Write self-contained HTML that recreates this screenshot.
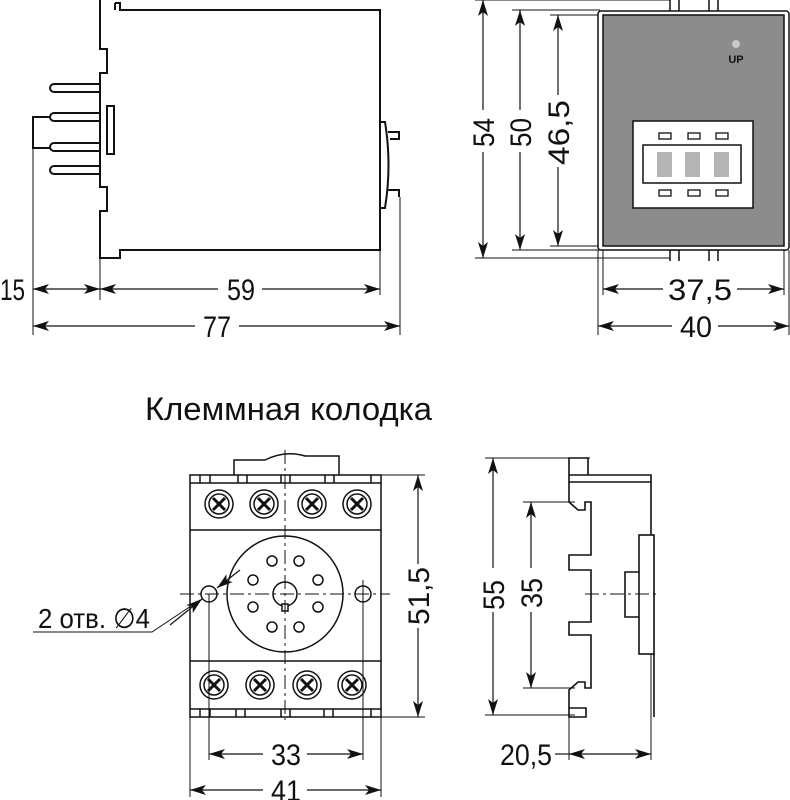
<!DOCTYPE html>
<html><head><meta charset="utf-8"><style>
body{margin:0;background:#fff}
svg{display:block}
text{font-family:"Liberation Sans Narrow","Liberation Sans",sans-serif;fill:#111}
</style></head><body>
<svg width="790" height="800" viewBox="0 0 790 800" xmlns="http://www.w3.org/2000/svg">
<defs>
<marker id="a" viewBox="0 0 16 10" refX="16" refY="5" markerWidth="16" markerHeight="10" markerUnits="userSpaceOnUse" orient="auto-start-reverse"><path d="M0,0 L16,5 L0,10 L4,5 z" fill="#111"/></marker>
</defs>
<g stroke="#111" stroke-width="2" fill="none">
<path d="M100,0 V49 H107 V73 H100 V187 H107 V211 H100 V258 H120 V250 H380 V10 H120 V3 H115"/>
<path d="M115,3 V10"/>
<rect x="107" y="106" width="7" height="48" fill="#fff"/>
<path d="M100,84 H54 a4,4 0 0 0 0,8 H100 M100,113 H54 a4,4 0 0 0 0,8 H100 M100,143 H54 a4,4 0 0 0 0,8 H100 M100,166 H54 a4,4 0 0 0 0,8 H100"/>
<path d="M50,117 H33 V148 H50"/>
<path d="M380,122 H385 Q392,165 385,208 H380"/>
<path d="M388,132 H399 V139 H390 M388,190 H399 V197"/>
</g>
<g stroke="#111" stroke-width="1" fill="none">
<path d="M33,148 V335 M100,258 V300 M380,250 V295 M400,197 V335"/>
</g>
<g stroke="#111" stroke-width="1.2">
<line x1="33" y1="289" x2="100" y2="289" marker-start="url(#a)" marker-end="url(#a)"/>
<line x1="100" y1="289" x2="380" y2="289" marker-start="url(#a)" marker-end="url(#a)"/>
<line x1="33" y1="326" x2="400" y2="326" marker-start="url(#a)" marker-end="url(#a)"/>
</g>
<rect x="218" y="276" width="44" height="26" fill="#fff"/>
<rect x="195" y="312" width="44" height="28" fill="#fff"/>
<text x="0" y="300" font-size="30" textLength="25" lengthAdjust="spacingAndGlyphs">15</text>
<text x="227" y="300" font-size="30" textLength="28" lengthAdjust="spacingAndGlyphs">59</text>
<text x="203" y="337" font-size="30" textLength="28" lengthAdjust="spacingAndGlyphs">77</text>

<!-- front view -->
<g stroke="#111" stroke-width="1" fill="none">
<path d="M475,0 H675 M512,10 H600 M550,15 H600 M550,246 H600 M512,250 H600 M475,258 H680"/>
<path d="M598,250 V335 M789,250 V335 M603,246 V295 M784,246 V295"/>
</g>
<path d="M670,0 V12 H679 V0 M709,0 V12 H718 V0 M670,261 V250 H679 V261 M709,261 V250 H718 V261" stroke="#111" stroke-width="1.5" fill="#fff"/>
<rect x="598" y="11" width="191" height="239" rx="3" fill="#fff" stroke="#111" stroke-width="1.5"/>
<rect x="603" y="15" width="181" height="231" fill="#8c8c8c" stroke="#111" stroke-width="1.5"/>
<circle cx="736" cy="44" r="4" fill="#c8c8c8"/>
<text x="736" y="63" font-size="11" font-weight="bold" text-anchor="middle" font-family="Liberation Sans,sans-serif">UP</text>
<rect x="633" y="121" width="120" height="87" fill="#fff" stroke="#111" stroke-width="1.5"/>
<rect x="643" y="145" width="98" height="38" fill="#fff" stroke="#111" stroke-width="1.5"/>
<g fill="#b4b4b4"><rect x="657" y="152" width="15" height="25"/><rect x="685" y="152" width="15" height="25"/><rect x="714" y="152" width="15" height="25"/></g>
<g fill="#fff" stroke="#111" stroke-width="1.3">
<rect x="659" y="133" width="12" height="6"/><rect x="688" y="133" width="12" height="6"/><rect x="716" y="133" width="12" height="6"/>
<rect x="659" y="190" width="12" height="6"/><rect x="688" y="190" width="12" height="6"/><rect x="716" y="190" width="12" height="6"/>
</g>
<g stroke="#111" stroke-width="1.2">
<line x1="483" y1="0" x2="483" y2="258" marker-start="url(#a)" marker-end="url(#a)"/>
<line x1="520" y1="10" x2="520" y2="250" marker-start="url(#a)" marker-end="url(#a)"/>
<line x1="558" y1="15" x2="558" y2="246" marker-start="url(#a)" marker-end="url(#a)"/>
<line x1="603" y1="289" x2="784" y2="289" marker-start="url(#a)" marker-end="url(#a)"/>
<line x1="598" y1="326" x2="789" y2="326" marker-start="url(#a)" marker-end="url(#a)"/>
</g>
<rect x="470" y="110" width="26" height="42" fill="#fff"/>
<rect x="507" y="110" width="26" height="42" fill="#fff"/>
<rect x="545" y="95" width="26" height="72" fill="#fff"/>
<rect x="663" y="276" width="74" height="26" fill="#fff"/>
<rect x="672" y="312" width="46" height="28" fill="#fff"/>
<text transform="translate(494,147) rotate(-90)" font-size="30" textLength="29" lengthAdjust="spacingAndGlyphs">54</text>
<text transform="translate(531,147) rotate(-90)" font-size="30" textLength="29" lengthAdjust="spacingAndGlyphs">50</text>
<text transform="translate(569,165) rotate(-90)" font-size="30" textLength="65" lengthAdjust="spacingAndGlyphs">46,5</text>
<text x="668" y="300" font-size="30" textLength="64" lengthAdjust="spacingAndGlyphs">37,5</text>
<text x="680" y="337" font-size="30" textLength="32" lengthAdjust="spacingAndGlyphs">40</text>

<text x="145" y="420" font-size="32" font-family="Liberation Sans Narrow,Liberation Sans,sans-serif" textLength="287" lengthAdjust="spacingAndGlyphs">Клеммная колодка</text>

<!-- socket -->
<g stroke="#111" stroke-width="1.5" fill="#fff">
<path d="M234,475 V460 H265 Q285,450 305,456 H339 V475"/>
<rect x="190" y="475" width="191" height="242"/>
<path d="M190,483 H381 M190,530 H381 M190,661 H381 M190,709 H381" fill="none"/>
<path d="M200,475 V483 M210,475 V483 M238,475 V483 M247,475 V483 M281,475 V483 M290,475 V483 M325,475 V483 M334,475 V483 M371,475 V483" fill="none"/>
<path d="M200,709 V717 M210,709 V717 M236,709 V717 M245,709 V717 M281,709 V717 M290,709 V717 M324,709 V717 M333,709 V717 M371,709 V717" fill="none"/>
<circle cx="285" cy="594" r="58"/>
<circle cx="209" cy="594" r="8"/><circle cx="363" cy="594" r="8"/>
<circle cx="285" cy="594" r="12"/>
<rect x="282" y="604" width="6" height="7"/>
</g>
<g stroke="#111" stroke-width="1.5" fill="none">
<circle cx="272" cy="561" r="5"/><circle cx="299" cy="561" r="5"/>
<circle cx="253" cy="580" r="5"/><circle cx="318" cy="580" r="5"/>
<circle cx="253" cy="607" r="5"/><circle cx="318" cy="607" r="5"/>
<circle cx="272" cy="627" r="5"/><circle cx="299" cy="627" r="5"/>
</g>
<g stroke="#111" stroke-width="1.5" fill="none">
<circle cx="219" cy="504" r="14"/><circle cx="219" cy="504" r="10"/>
<circle cx="264" cy="504" r="14"/><circle cx="264" cy="504" r="10"/>
<circle cx="312" cy="504" r="14"/><circle cx="312" cy="504" r="10"/>
<circle cx="357" cy="504" r="14"/><circle cx="357" cy="504" r="10"/>
<circle cx="214" cy="685" r="14"/><circle cx="214" cy="685" r="10"/>
<circle cx="260" cy="685" r="14"/><circle cx="260" cy="685" r="10"/>
<circle cx="307" cy="685" r="14"/><circle cx="307" cy="685" r="10"/>
<circle cx="352" cy="685" r="14"/><circle cx="352" cy="685" r="10"/>
</g>
<g stroke="#111" stroke-width="3">
<path d="M213,498 l12,12 M225,498 l-12,12 M258,498 l12,12 M270,498 l-12,12 M306,498 l12,12 M318,498 l-12,12 M351,498 l12,12 M363,498 l-12,12"/>
<path d="M208,679 l12,12 M220,679 l-12,12 M254,679 l12,12 M266,679 l-12,12 M301,679 l12,12 M313,679 l-12,12 M346,679 l12,12 M358,679 l-12,12"/>
</g>
<g stroke="#111" stroke-width="1" fill="none">
<path d="M180,594 H390 M285,450 V720" stroke-dasharray="14,4,3,4"/>
<path d="M381,475 H425 M381,717 H425 M209,594 V760 M363,580 V760 M190,717 V797 M381,717 V797"/>
<path d="M33,632 H152 L200,600"/>
</g>
<g stroke="#111" stroke-width="1.2">
<line x1="418" y1="475" x2="418" y2="717" marker-start="url(#a)" marker-end="url(#a)"/>
<line x1="209" y1="754" x2="363" y2="754" marker-start="url(#a)" marker-end="url(#a)"/>
<line x1="190" y1="790" x2="381" y2="790" marker-start="url(#a)" marker-end="url(#a)"/>
<line x1="170" y1="625" x2="202" y2="599" marker-end="url(#a)"/>
<line x1="240" y1="570" x2="217" y2="588" marker-end="url(#a)"/>
</g>
<rect x="405" y="564" width="26" height="64" fill="#fff"/>
<rect x="263" y="741" width="44" height="26" fill="#fff"/>
<rect x="263" y="777" width="44" height="23" fill="#fff"/>
<text transform="translate(429,625) rotate(-90)" font-size="30" textLength="58" lengthAdjust="spacingAndGlyphs">51,5</text>
<text x="271" y="765" font-size="30" textLength="30" lengthAdjust="spacingAndGlyphs">33</text>
<text x="271" y="801" font-size="30" textLength="30" lengthAdjust="spacingAndGlyphs">41</text>
<text x="38" y="628" font-size="28" textLength="112" lengthAdjust="spacingAndGlyphs">2 отв. ∅4</text>

<!-- socket side -->
<g stroke="#111" stroke-width="1" fill="none">
<path d="M485,458 H590 M523,502 H575 M523,688 H575 M485,715 H575 M569,717 V760 M651,654 V760"/>
<path d="M585,594 H660" stroke-dasharray="14,4,3,4"/>
</g>
<g stroke="#111" stroke-width="1.6" fill="none">
<path d="M569,475 V458 H588 V475"/>
<path d="M569,475 H651 V535 M569,482 H651"/>
<path d="M569,475 V502 L578,510 H585 V502 H591 V555 H569 V570 H591 V622 H569 V635 H591 V688 H585 V682 H578 L569,690 V717 H586 V708 H569"/>
<rect x="639" y="535" width="15" height="119"/>
<path d="M639,572 H625 V617 H639"/>
<path d="M654,654 V717"/>
</g>
<g stroke="#111" stroke-width="1.2">
<line x1="493" y1="458" x2="493" y2="715" marker-start="url(#a)" marker-end="url(#a)"/>
<line x1="531" y1="502" x2="531" y2="688" marker-start="url(#a)" marker-end="url(#a)"/>
<line x1="569" y1="754" x2="651" y2="754" marker-start="url(#a)" marker-end="url(#a)"/>
<line x1="555" y1="754" x2="569" y2="754"/>
</g>
<rect x="480" y="568" width="26" height="44" fill="#fff"/>
<rect x="518" y="568" width="26" height="44" fill="#fff"/>
<text transform="translate(504,610) rotate(-90)" font-size="30" textLength="30" lengthAdjust="spacingAndGlyphs">55</text>
<text transform="translate(542,608) rotate(-90)" font-size="30" textLength="30" lengthAdjust="spacingAndGlyphs">35</text>
<text x="500" y="765" font-size="30" textLength="52" lengthAdjust="spacingAndGlyphs">20,5</text>
</svg>
</body></html>
